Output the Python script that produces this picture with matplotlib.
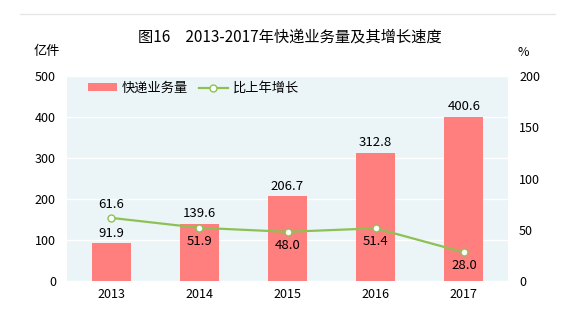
import matplotlib
matplotlib.use("Agg")
import matplotlib.pyplot as plt
from matplotlib.lines import Line2D
from matplotlib.patches import Patch

plt.rcParams['font.family'] = ['Noto Sans CJK SC', 'DejaVu Sans']

years = ['2013', '2014', '2015', '2016', '2017']
volume = [91.9, 139.6, 206.7, 312.8, 400.6]
growth = [61.6, 51.9, 48.0, 51.4, 28.0]

bar_color = '#FF7F7F'
line_color = '#8DC153'
bg_color = '#EBF5F8'

fig = plt.figure(figsize=(5.79, 3.31), dpi=100)
fig.patch.set_facecolor('white')

ax = fig.add_axes([67/579, 1-281/331, (508-67)/579, (281-76)/331])
ax.set_facecolor(bg_color)
x = list(range(len(years)))
ax.bar(x, volume, width=0.44, color=bar_color, zorder=2)
ax.set_xlim(-0.5, len(years)-0.5)
ax.set_ylim(0, 500)
ax.set_yticks([0, 100, 200, 300, 400, 500])
ax.set_xticks(x)
ax.set_xticklabels(years)
ax.grid(axis='y', color='white', linewidth=1, zorder=1)
ax.set_axisbelow(True)
for s in ax.spines.values():
    s.set_visible(False)
ax.tick_params(length=0, labelsize=9, pad=8)
ax.tick_params(axis='x', pad=5)
for xi, v in zip(x, volume):
    ax.text(xi, v + 8, f'{v:.1f}', ha='center', va='bottom', fontsize=9.5, zorder=5)

ax2 = ax.twinx()
ax2.set_ylim(0, 200)
ax2.set_yticks([0, 50, 100, 150, 200])
for s in ax2.spines.values():
    s.set_visible(False)
ax2.tick_params(length=0, labelsize=9, pad=8)
ax2.plot(x, growth, color=line_color, linewidth=1.6, marker='o', markersize=5,
         markerfacecolor='white', markeredgecolor=line_color, markeredgewidth=1.0, zorder=4)
for i, (xi, g) in enumerate(zip(x, growth)):
    if i == 0:
        ax2.text(xi, g + 7, f'{g:.1f}', ha='center', va='bottom', fontsize=9.5)
    else:
        ax2.text(xi, g - 7, f'{g:.1f}', ha='center', va='top', fontsize=9.5)

handles = [Patch(facecolor=bar_color, edgecolor='none'),
           Line2D([0], [0], color=line_color, linewidth=1.6, marker='o', markersize=5,
                  markerfacecolor='white', markeredgecolor=line_color)]
leg = ax.legend(handles, ['快递业务量', '比上年增长'], loc='upper left', ncol=2,
                frameon=False, fontsize=9.5, bbox_to_anchor=(0.02, 1.03),
                handlelength=2.2, handleheight=0.5, columnspacing=0.8, handletextpad=0.4)

fig.text(0.5, 1-37/331, '图16　2013-2017年快递业务量及其增长速度', ha='center', va='center',
         fontsize=11)
fig.text(47/579, 1-52/331, '亿件', ha='center', va='center', fontsize=9.5)
fig.text(523/579, 1-52/331, '%', ha='center', va='center', fontsize=9)
fig.add_artist(Line2D([20/579, 555/579], [1-14/331, 1-14/331], color='#E6E6E6', linewidth=1))

fig.savefig('out.png', dpi=100)
